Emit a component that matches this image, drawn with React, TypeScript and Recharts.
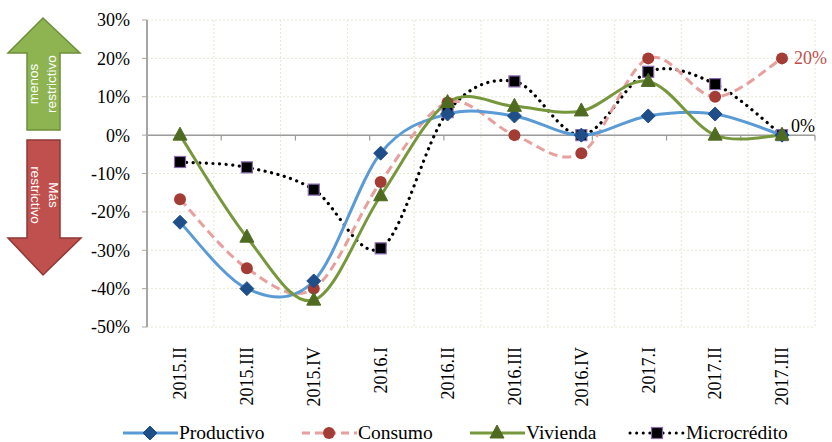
import React from 'react';
import {
  LineChart,
  Line,
  XAxis,
  YAxis,
  CartesianGrid,
  ReferenceLine,
} from 'recharts';

const quarters = ['2015.II', '2015.III', '2015.IV', '2016.I', '2016.II', '2016.III', '2016.IV', '2017.I', '2017.II', '2017.III'];
const productivo = [-22.7, -40, -38, -4.7, 5.5, 5, 0, 5, 5.5, 0];
const consumo = [-16.7, -34.7, -40, -12.2, 8.5, 0, -4.7, 20, 10, 20];
const vivienda = [0, -26.6, -43, -15.8, 8.5, 7.5, 6.3, 14, 0, 0];
const microcredito = [-7, -8.4, -14.2, -29.5, 6, 14, 0, 16.5, 13.3, 0];
const yTicks = [30, 20, 10, 0, -10, -20, -30, -40, -50];

const data = quarters.map((q, i) => ({
  q,
  productivo: productivo[i],
  consumo: consumo[i],
  vivienda: vivienda[i],
  microcredito: microcredito[i],
}));

const SERIF = '"Liberation Serif", "Times New Roman", serif';
const SANS = '"Liberation Sans", Arial, sans-serif';

// excel-like smoothed line (catmull-rom as bezier)
function smoothCurve(context: any) {
  let pts: number[][] = [];
  return {
    areaStart() {},
    areaEnd() {},
    lineStart() {
      pts = [];
    },
    lineEnd() {
      if (!pts.length) return;
      context.moveTo(pts[0][0], pts[0][1]);
      for (let i = 0; i < pts.length - 1; i++) {
        const p0 = pts[i - 1] || pts[i];
        const p1 = pts[i];
        const p2 = pts[i + 1];
        const p3 = pts[i + 2] || p2;
        context.bezierCurveTo(
          p1[0] + (p2[0] - p0[0]) / 6,
          p1[1] + (p2[1] - p0[1]) / 6,
          p2[0] - (p3[0] - p1[0]) / 6,
          p2[1] - (p3[1] - p1[1]) / 6,
          p2[0],
          p2[1]
        );
      }
    },
    point(x: number, y: number) {
      pts.push([+x, +y]);
    },
  };
}

function Marker({ kind, cx, cy }: { kind: string; cx: number; cy: number }) {
  if (kind === 'diamond')
    return <path d={`M${cx},${cy - 7}L${cx + 7},${cy}L${cx},${cy + 7}L${cx - 7},${cy}Z`} fill="#1F4E89" stroke="#1F4E89" />;
  if (kind === 'circle') return <circle cx={cx} cy={cy} r={6} fill="#A43C36" />;
  if (kind === 'triangle')
    return <path d={`M${cx},${cy - 8}L${cx + 7},${cy + 5}L${cx - 7},${cy + 5}Z`} fill="#4F6B22" stroke="#4F6B22" />;
  return <rect x={cx - 5.5} y={cy - 5.5} width={11} height={11} fill="#000" stroke="#8A6BB0" strokeWidth={1.2} />;
}

const dotFor = (kind: string) => (p: any) =>
  p.cx == null ? <g key={p.index} /> : (
    <g key={`${kind}-${p.index}`}>
      <Marker kind={kind} cx={p.cx} cy={p.cy} />
    </g>
  );

const XTick = ({ x, y, payload }: any) => (
  <text
    transform={`translate(${x},${y}) rotate(-90)`}
    textAnchor="end"
    dy="0.35em"
    fontFamily={SERIF}
    fontSize={18}
    fill="#000"
  >
    {payload.value}
  </text>
);

const endLabel = (text: string, color: string, dx: number, dy: number) => (p: any) =>
  p.index === quarters.length - 1 ? (
    <text x={p.x + dx} y={p.y + dy} fontFamily={SERIF} fontSize={18} fill={color}>
      {text}
    </text>
  ) : null;

function Arrows() {
  return (
    <svg width={90} height={290} style={{ position: 'absolute', left: 0, top: 0 }}>
      <path d="M43,18 L80,53 L60,53 L60,130 L27,130 L27,53 L8,53 Z" fill="#8DB451" stroke="#6E8F3B" strokeWidth={1.5} />
      <text transform="translate(38,84) rotate(-90)" textAnchor="middle" fontFamily={SANS} fontSize={13.5} fill="#fff">
        menos
      </text>
      <text transform="translate(56,84) rotate(-90)" textAnchor="middle" fontFamily={SANS} fontSize={13.5} fill="#fff">
        restrictivo
      </text>
      <path d="M27,140 L60,140 L60,238 L81,238 L43,275 L8,238 L27,238 Z" fill="#C0504D" stroke="#8C3836" strokeWidth={1.5} />
      <text transform="translate(49,195) rotate(90)" textAnchor="middle" fontFamily={SANS} fontSize={13.5} fill="#fff">
        Más
      </text>
      <text transform="translate(31,195) rotate(90)" textAnchor="middle" fontFamily={SANS} fontSize={13.5} fill="#fff">
        restrictivo
      </text>
    </svg>
  );
}

const legendItems = [
  { name: 'Productivo', x: 123, color: '#5B9BD5', dash: undefined, kind: 'diamond', cap: 'butt' },
  { name: 'Consumo', x: 302, color: '#E6A09E', dash: '8 5', kind: 'circle', cap: 'butt' },
  { name: 'Vivienda', x: 470, color: '#77973D', dash: undefined, kind: 'triangle', cap: 'butt' },
  { name: 'Microcrédito', x: 630, color: '#000', dash: '0.1 6.5', kind: 'square', cap: 'round' },
];

function Legend() {
  return (
    <svg width={832} height={22} style={{ position: 'absolute', left: 0, top: 420 }}>
      {legendItems.map((it) => (
        <g key={it.name}>
          <line
            x1={it.x}
            x2={it.x + 55}
            y1={13}
            y2={13}
            stroke={it.color}
            strokeWidth={3}
            strokeDasharray={it.dash}
            strokeLinecap={it.cap as any}
          />
          <Marker kind={it.kind} cx={it.x + 27} cy={13} />
          <text x={it.x + 56} y={19} fontFamily={SERIF} fontSize={19.5} fill="#000">
            {it.name}
          </text>
        </g>
      ))}
    </svg>
  );
}

const zeroTicks = quarters.map((_, i) => i + 1);

export default function App() {
  return (
    <div style={{ position: 'absolute', left: 0, top: 0, width: 832, height: 442, background: '#fff', overflow: 'hidden' }}>
      <LineChart width={832} height={442} data={data} margin={{ top: 20, right: 17, left: 0, bottom: 20 }}>
        <CartesianGrid
          stroke="#E4E8D2"
          strokeDasharray="2 2"
          verticalCoordinatesGenerator={({ offset }: any) =>
            quarters.map((_, i) => offset.left + ((i + 1) * offset.width) / quarters.length)
          }
        />
        <XAxis
          dataKey="q"
          height={95}
          axisLine={false}
          tickLine={false}
          tickSize={0}
          tickMargin={20}
          interval={0}
          padding={{ left: 33, right: 33 }}
          tick={<XTick />}
        />
        <XAxis xAxisId="slots" type="number" domain={[0, quarters.length]} hide />
        <YAxis
          width={147}
          domain={[-50, 30]}
          ticks={yTicks}
          tickFormatter={(v: number) => `${v}%`}
          axisLine={{ stroke: '#A6A6A6', strokeWidth: 2 }}
          tickLine={{ stroke: '#A6A6A6' }}
          tickSize={5}
          tickMargin={12}
          tick={{ fontFamily: SERIF, fontSize: 18, fill: '#000' }}
          allowDataOverflow
        />
        <ReferenceLine y={0} stroke="#9C9C9C" strokeWidth={1.5} />
        {zeroTicks.map((t) => (
          <ReferenceLine
            key={t}
            xAxisId="slots"
            segment={[{ x: t, y: 0 }, { x: t, y: -1.4 }]}
            stroke="#9C9C9C"
            strokeWidth={1.2}
          />
        ))}
        <Line
          dataKey="microcredito"
          type={smoothCurve as any}
          stroke="#000"
          strokeWidth={3.2}
          strokeDasharray="0.1 6.5"
          strokeLinecap="round"
          dot={dotFor('square')}
          isAnimationActive={false}
          label={endLabel('0%', '#000', 9, -3)}
        />
        <Line
          dataKey="consumo"
          type={smoothCurve as any}
          stroke="#E6A09E"
          strokeWidth={3}
          strokeDasharray="9 5"
          dot={dotFor('circle')}
          isAnimationActive={false}
          label={endLabel('20%', '#C0504D', 12, 6)}
        />
        <Line
          dataKey="productivo"
          type={smoothCurve as any}
          stroke="#5B9BD5"
          strokeWidth={3}
          dot={dotFor('diamond')}
          isAnimationActive={false}
        />
        <Line
          dataKey="vivienda"
          type={smoothCurve as any}
          stroke="#77973D"
          strokeWidth={3}
          dot={dotFor('triangle')}
          isAnimationActive={false}
        />
      </LineChart>
      <Arrows />
      <Legend />
    </div>
  );
}
